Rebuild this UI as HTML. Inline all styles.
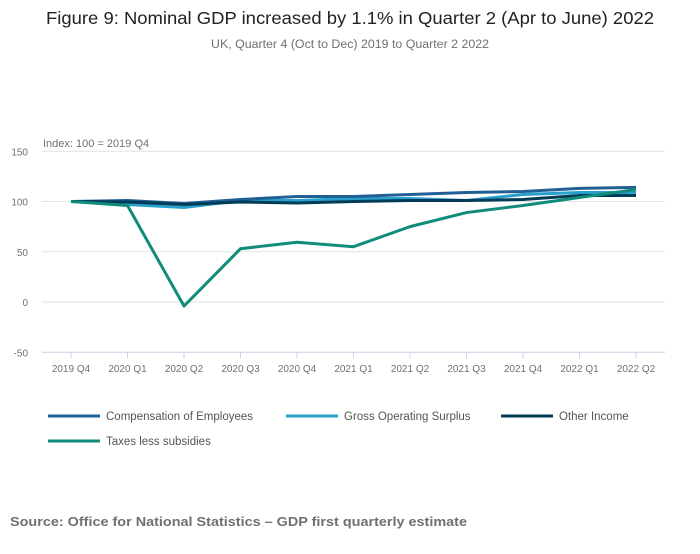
<!DOCTYPE html>
<html><head><meta charset="utf-8"><style>
body{margin:0;width:700px;height:549px;background:#fff;font-family:"Liberation Sans",sans-serif;overflow:hidden}
svg text{font-family:"Liberation Sans",sans-serif}
</style></head><body>
<svg id="c" width="700" height="549">
<text x="350" y="24" text-anchor="middle" font-size="17.5" fill="#222" textLength="608" lengthAdjust="spacingAndGlyphs">Figure 9: Nominal GDP increased by 1.1% in Quarter 2 (Apr to June) 2022</text>
<text x="350" y="48" text-anchor="middle" font-size="11.5" fill="#707070" textLength="278" lengthAdjust="spacingAndGlyphs">UK, Quarter 4 (Oct to Dec) 2019 to Quarter 2 2022</text>
<text x="43" y="147" font-size="11" fill="#707070">Index: 100 = 2019 Q4</text>
<g id="grid"></g><g id="lines"></g>
<text x="10" y="526" font-size="13" font-weight="bold" fill="#707070" textLength="457" lengthAdjust="spacingAndGlyphs">Source: Office for National Statistics – GDP first quarterly estimate</text>
</svg>
<script>
const categories=["2019 Q4","2020 Q1","2020 Q2","2020 Q3","2020 Q4","2021 Q1","2021 Q2","2021 Q3","2021 Q4","2022 Q1","2022 Q2"];
const compensation=[100,101,98,102,105,105,107,109,110,113,114];
const grossOperating=[100,97,94,101,101,103,103,101,107,109,109];
const otherIncome=[100,99.5,97,99.5,98.5,100,101,101,102,106,106];
const taxes=[100,96,-4,53,59.5,55,75,89,96,104,112];
const yTicks=[150,100,50,0,-50];
const seriesNames=["Compensation of Employees","Gross Operating Surplus","Other Income","Taxes less subsidies"];
const NS="http://www.w3.org/2000/svg";
const svg=document.getElementById('c'),grid=document.getElementById('grid'),lines=document.getElementById('lines');
const x=i=>71+i*56.5, y=v=>302-v*1.005;
function mk(t,a,p){const e=document.createElementNS(NS,t);for(const k in a)e.setAttribute(k,a[k]);(p||svg).appendChild(e);return e;}
yTicks.forEach(v=>{
 const l=mk('line',{x1:42,x2:665,y1:y(v),y2:y(v),stroke:v===-50?'#c8d4e8':'#e2e2e2','stroke-width':1},grid);
 
 
 const t=mk('text',{x:28,y:y(v)+4,'text-anchor':'end','font-size':10,fill:'#707070'},grid);t.textContent=v;
 
 
});
categories.forEach((c,i)=>{
 const l=mk('line',{x1:x(i),x2:x(i),y1:y(-50),y2:y(-50)+6,stroke:'#c8d4e8'},grid);
 
 
 const t=mk('text',{x:x(i),y:372,'text-anchor':'middle','font-size':10,fill:'#707070'},grid);t.textContent=c;
 
 
});
const data=[compensation,grossOperating,otherIncome,taxes];
const colors=["#206095","#27a0cc","#003c57","#118c7b"];
[1,0,2,3].forEach(k=>{
 const p=mk('polyline',{points:data[k].map((v,i)=>x(i)+','+y(v)).join(' '),fill:'none',stroke:colors[k],'stroke-width':3,'stroke-linejoin':'round'},lines);
 
 
});
const lx=[48,286,501,48],ly=[416,416,416,441];
seriesNames.forEach((n,k)=>{
 const g=mk('g',{});
 
 
 mk('line',{x1:lx[k],x2:lx[k]+52,y1:ly[k],y2:ly[k],stroke:colors[k],'stroke-width':3},g);
 const t=mk('text',{x:lx[k]+58,y:ly[k]+4,'font-size':11.5,fill:'#555'},g);t.textContent=n;
});
</script>
</body></html>
